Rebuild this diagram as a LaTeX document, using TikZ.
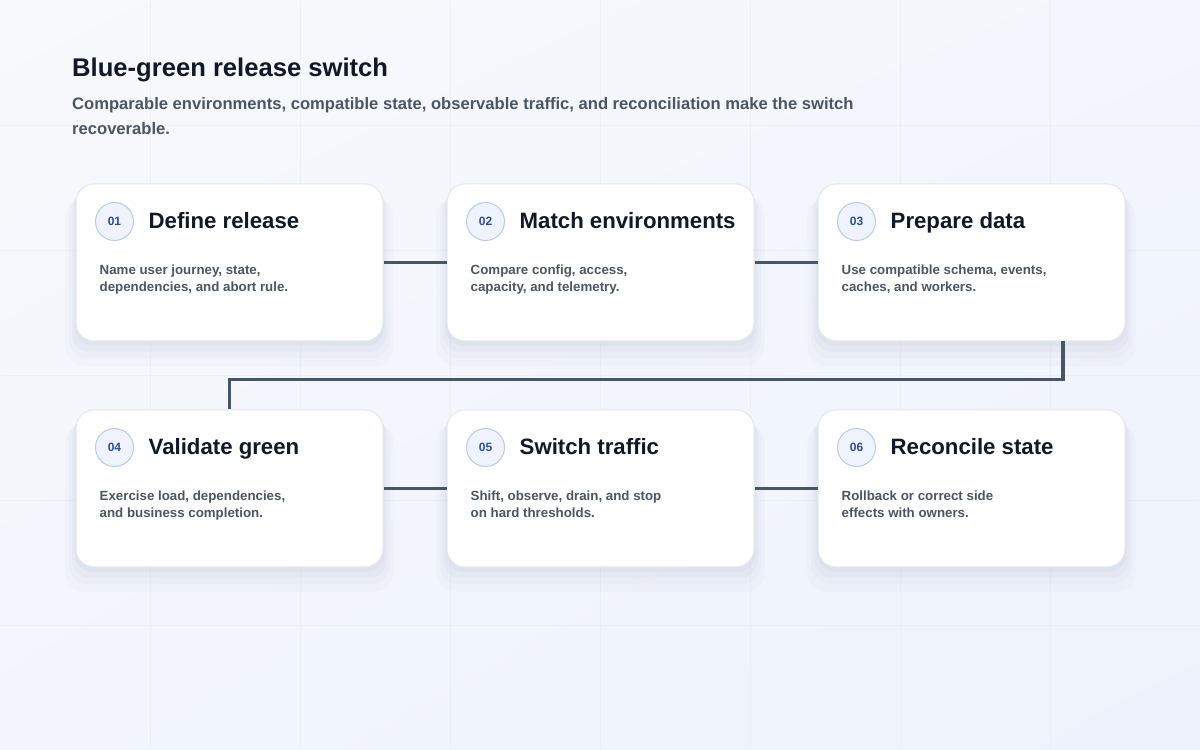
\documentclass[tikz,border=0pt]{standalone}
\usepackage{fontspec}
\setmainfont{Liberation Sans}
\usetikzlibrary{positioning,shadows,shadings}

\definecolor{ink}{HTML}{111827}
\definecolor{slate}{HTML}{4B5563}
\definecolor{linkgray}{HTML}{475569}
\definecolor{numblue}{HTML}{2F4C9C}
\definecolor{numfill}{HTML}{EEF3FD}
\definecolor{numedge}{HTML}{B9CAEC}
\definecolor{cardedge}{HTML}{E2E8F0}
\definecolor{shadowcol}{HTML}{8794BA}
\definecolor{bgtop}{HTML}{F7F9FC}
\definecolor{bgbottom}{HTML}{EDF2FC}
\definecolor{gridcol}{HTML}{E3E8F1}

\begin{document}
\begin{tikzpicture}[
    x=1pt, y=1pt,
    node distance=63pt and 63pt,
    card/.style={draw=cardedge, line width=1pt, fill=white, rounded corners=18pt,
        minimum width=307pt, minimum height=157pt, inner sep=0pt,
        general shadow={draw=none, fill=shadowcol, opacity=0.03, shadow yshift=-18pt, shadow scale=1.07},
        general shadow={draw=none, fill=shadowcol, opacity=0.04, shadow yshift=-13pt, shadow scale=1.045},
        general shadow={draw=none, fill=shadowcol, opacity=0.05, shadow yshift=-9pt, shadow scale=1.025},
        general shadow={draw=none, fill=shadowcol, opacity=0.06, shadow yshift=-4pt, shadow scale=1.01}},
    num/.style={circle, draw=numedge, line width=1pt, fill=numfill, minimum size=38pt,
        inner sep=0pt, text=numblue, font=\bfseries\fontsize{12}{14}\selectfont},
    head/.style={anchor=base west, inner sep=0pt, text=ink,
        font=\bfseries\fontsize{22.2}{26}\selectfont},
    body/.style={anchor=base west, inner sep=0pt, text=slate, align=left,
        font=\bfseries\fontsize{13.3}{17}\selectfont},
    link/.style={draw=linkgray, line width=3.5pt}
]

    % Background
    \useasboundingbox (0,0) rectangle (1200,750);
    \shade[upper left=bgtop, upper right=bgtop!60!bgbottom, lower left=bgtop!50!bgbottom, lower right=bgbottom]
        (0,0) rectangle (1200,750);
    \draw[gridcol, line width=0.8pt, opacity=0.45] (1,1) grid[xstep=150pt, ystep=125pt] (1199,749);

    % Title
    \node[anchor=base west, inner sep=0pt, text=ink, font=\bfseries\fontsize{25.6}{30}\selectfont]
        (title) at (72,673) {Blue-green release switch};
    \node[anchor=base west, inner sep=0pt, text=slate, align=left, font=\bfseries\fontsize{16.6}{25}\selectfont]
        (subtitle) at (72,615) {Comparable environments, compatible state, observable traffic, and reconciliation make the switch\\recoverable.};

    % Draw cards
    \node[card] (c1) at (229.5,487.5) {};
    \node[card, right=of c1] (c2) {};
    \node[card, right=of c2] (c3) {};
    \node[card, below=68pt of c1] (c4) {};
    \node[card, right=of c4] (c5) {};
    \node[card, right=of c5] (c6) {};

    % Card contents
    \node[num] (n1) at ([shift={(39pt,-38pt)}]c1.north west) {01};
    \node[head] (h1) at ([shift={(73pt,-45pt)}]c1.north west) {Define release};
    \node[body] (b1) at ([shift={(24pt,-108pt)}]c1.north west) {Name user journey, state,\\dependencies, and abort rule.};

    \node[num] (n2) at ([shift={(39pt,-38pt)}]c2.north west) {02};
    \node[head] (h2) at ([shift={(73pt,-45pt)}]c2.north west) {Match environments};
    \node[body] (b2) at ([shift={(24pt,-108pt)}]c2.north west) {Compare config, access,\\capacity, and telemetry.};

    \node[num] (n3) at ([shift={(39pt,-38pt)}]c3.north west) {03};
    \node[head] (h3) at ([shift={(73pt,-45pt)}]c3.north west) {Prepare data};
    \node[body] (b3) at ([shift={(24pt,-108pt)}]c3.north west) {Use compatible schema, events,\\caches, and workers.};

    \node[num] (n4) at ([shift={(39pt,-38pt)}]c4.north west) {04};
    \node[head] (h4) at ([shift={(73pt,-45pt)}]c4.north west) {Validate green};
    \node[body] (b4) at ([shift={(24pt,-108pt)}]c4.north west) {Exercise load, dependencies,\\and business completion.};

    \node[num] (n5) at ([shift={(39pt,-38pt)}]c5.north west) {05};
    \node[head] (h5) at ([shift={(73pt,-45pt)}]c5.north west) {Switch traffic};
    \node[body] (b5) at ([shift={(24pt,-108pt)}]c5.north west) {Shift, observe, drain, and stop\\on hard thresholds.};

    \node[num] (n6) at ([shift={(39pt,-38pt)}]c6.north west) {06};
    \node[head] (h6) at ([shift={(73pt,-45pt)}]c6.north west) {Reconcile state};
    \node[body] (b6) at ([shift={(24pt,-108pt)}]c6.north west) {Rollback or correct side\\effects with owners.};

    % Draw connections
    \draw[link] (c1.east) -- (c2.west);
    \draw[link] (c2.east) -- (c3.west);
    \draw[link] ([xshift=91.5pt]c3.south) |- ([yshift=30pt]c4.north) -- (c4.north);
    \draw[link] (c4.east) -- (c5.west);
    \draw[link] (c5.east) -- (c6.west);

\end{tikzpicture}
\end{document}
